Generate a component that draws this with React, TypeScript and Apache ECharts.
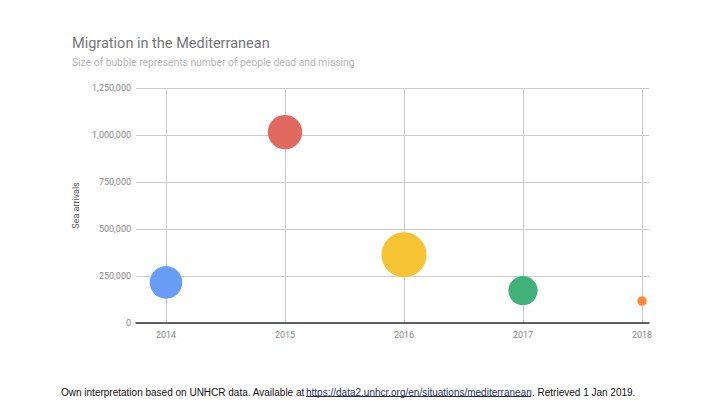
import React, { useEffect, useRef } from "react";
import * as echarts from "echarts";

const years = [2014, 2015, 2016, 2017, 2018];
const seaArrivals = [216054, 1015078, 362753, 172301, 116647];
const deadMissing = [3538, 3771, 5096, 3139, 650];
const bubbleColors = ["#689df6", "#e2695f", "#f6c333", "#3fb179", "#ff8a33"];
const yTicks = [0, 250000, 500000, 750000, 1000000, 1250000];

const title = "Migration in the Mediterranean";
const subtitle = "Size of bubble represents number of people dead and missing";
const yName = "Sea arrivals";
const footerA = "Own interpretation based on UNHCR data. Available at";
const footerLink = "https://data2.unhcr.org/en/situations/mediterranean";
const footerB = ". Retrieved 1 Jan 2019.";

const MIN_R = 4.7;
const MAX_R = 22.5;

export default function App() {
  const ref = useRef<HTMLDivElement>(null);
  useEffect(() => {
    if (!ref.current) return;
    const chart = echarts.init(ref.current, null, { renderer: "svg" });
    const vmin = Math.min(...deadMissing);
    const vmax = Math.max(...deadMissing);
    const yMax = yTicks[yTicks.length - 1];
    const yStep = yTicks[1] - yTicks[0];
    const fmt = (v: number) => v.toLocaleString("en-US");
    const footFont = "10px 'Liberation Sans'";
    chart.setOption({
      animation: false,
      backgroundColor: "#ffffff",
      textStyle: { fontFamily: "Roboto" },
      grid: [
        { left: 136, width: 513, top: 88, height: 235 },
        { left: 166, width: 476, top: 88, height: 235 },
      ],
      xAxis: [
        {
          type: "value",
          gridIndex: 0,
          min: 0,
          max: 1,
          axisLine: { show: true, lineStyle: { color: "#333333", width: 1.5 } },
          axisTick: { show: false },
          axisLabel: { show: false },
          splitLine: { show: false },
          z: 5,
        },
        {
          type: "value",
          gridIndex: 1,
          min: years[0],
          max: years[years.length - 1],
          interval: 1,
          axisLine: { show: false },
          axisTick: { show: false },
          axisLabel: {
            color: "#888888",
            fontSize: 9,
            margin: 7,
            formatter: (v: number) => String(v),
          },
          splitLine: { show: true, lineStyle: { color: "#cccccc", width: 1 } },
        },
      ],
      yAxis: [
        {
          type: "value",
          gridIndex: 0,
          min: 0,
          max: yMax,
          interval: yStep,
          name: yName,
          nameLocation: "middle",
          nameGap: 56,
          nameTextStyle: { color: "#555555", fontSize: 9 },
          axisLine: { show: false },
          axisTick: { show: false },
          axisLabel: { color: "#888888", fontSize: 9, margin: 5, formatter: fmt },
          splitLine: { show: true, lineStyle: { color: "#cccccc", width: 1 } },
        },
        {
          type: "value",
          gridIndex: 1,
          min: 0,
          max: yMax,
          show: false,
          splitLine: { show: false },
        },
      ],
      graphic: [
        {
          type: "text",
          left: 72,
          top: 36,
          style: { text: title, fill: "#757575", font: "14.5px Roboto" },
        },
        {
          type: "text",
          left: 72,
          top: 57,
          style: { text: subtitle, fill: "#b5b5b5", font: "10.3px Roboto" },
        },
        {
          type: "text",
          x: 61,
          y: 392,
          style: { text: footerA, fill: "#111111", font: footFont, verticalAlign: "middle", align: "left" },
        },
        {
          type: "text",
          x: 306,
          y: 392,
          style: { text: footerLink, fill: "#1f2d5c", font: footFont, verticalAlign: "middle", align: "left" },
        },
        {
          type: "line",
          shape: { x1: 306, y1: 396.5, x2: 531, y2: 396.5 },
          style: { stroke: "#1f2d5c", lineWidth: 1 },
        },
        {
          type: "text",
          x: 532,
          y: 392,
          style: { text: footerB, fill: "#111111", font: footFont, verticalAlign: "middle", align: "left" },
        },
      ],
      series: [
        {
          type: "scatter",
          xAxisIndex: 1,
          yAxisIndex: 1,
          data: years.map((y, i) => ({
            value: [y, seaArrivals[i], deadMissing[i]],
            itemStyle: { color: bubbleColors[i] },
          })),
          symbolSize: (val: number[]) =>
            2 * (MIN_R + ((val[2] - vmin) / (vmax - vmin)) * (MAX_R - MIN_R)),
          itemStyle: { opacity: 1 },
        },
      ],
    });
    return () => chart.dispose();
  }, []);
  return <div ref={ref} style={{ width: 720, height: 405, position: "absolute", left: 0, top: 0 }} />;
}
